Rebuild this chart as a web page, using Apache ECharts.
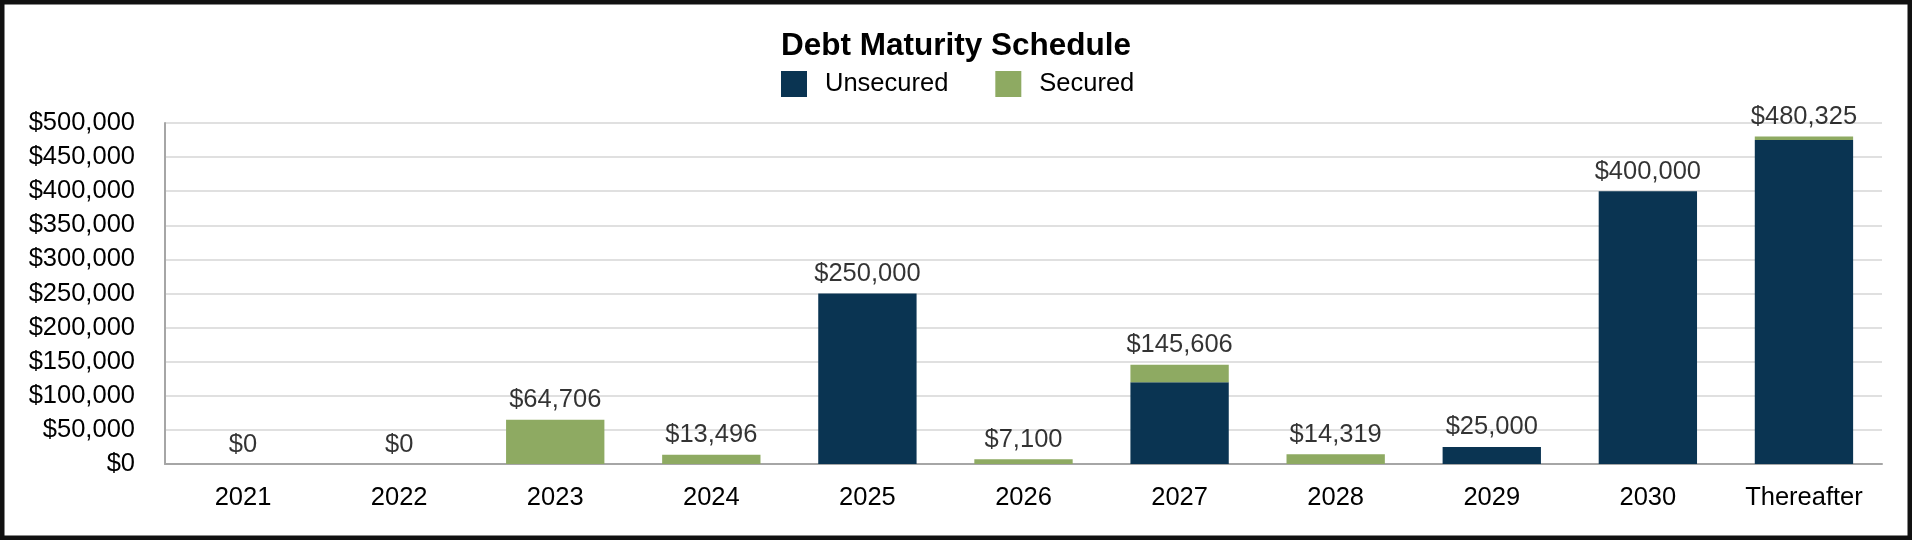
<!DOCTYPE html>
<html>
<head>
<meta charset="utf-8">
<style>
  html, body { margin: 0; padding: 0; background: #ffffff; }
  #chart { width: 1912px; height: 540px; }
</style>
<script src="https://cdn.jsdelivr.net/npm/echarts@6/dist/echarts.min.js"></script>
</head>
<body>
<div id="chart"></div>
<script>
const categories = ['2021', '2022', '2023', '2024', '2025', '2026', '2027', '2028', '2029', '2030', 'Thereafter'];
const unsecured = [0, 0, 0, 0, 250000, 0, 120000, 0, 25000, 400000, 475000];
const secured   = [0, 0, 64706, 13496, 0, 7100, 25606, 14319, 0, 0, 5325];
const totals    = [0, 0, 64706, 13496, 250000, 7100, 145606, 14319, 25000, 400000, 480325];
const yTicks = { min: 0, max: 500000, interval: 50000 };

const FONT = '"Liberation Sans", Arial, Helvetica, sans-serif';
const NAVY = '#0a3452';
const GREEN = '#8eaa62';
const money = v => '$' + Math.round(v).toLocaleString('en-US');

const chart = echarts.init(document.getElementById('chart'), null, { renderer: 'canvas' });
chart.setOption({
  backgroundColor: '#ffffff',
  animation: false,
  textStyle: { fontFamily: FONT },
  title: {
    text: 'Debt Maturity Schedule',
    left: 'center',
    top: 30,
    padding: 0,
    textStyle: { fontFamily: FONT, fontSize: 31.5, fontWeight: 'bold', color: '#000000' }
  },
  legend: {
    data: ['Unsecured', 'Secured'],
    left: 781,
    top: 71,
    padding: 0,
    icon: 'rect',
    itemWidth: 26,
    itemHeight: 26,
    itemGap: 47,
    selectedMode: false,
    textStyle: { fontFamily: FONT, fontSize: 25.5, color: '#000000', padding: [0, 0, 0, 13] }
  },
  grid: { left: 165, right: 30, top: 123, bottom: 76, containLabel: false },
  xAxis: {
    type: 'category',
    data: categories,
    axisLine: { show: true, lineStyle: { color: '#a6a6a6', width: 2 } },
    axisTick: { show: false },
    axisLabel: { fontFamily: FONT, fontSize: 25.5, color: '#000000', margin: 21 },
    splitLine: { show: false }
  },
  yAxis: {
    type: 'value',
    min: yTicks.min,
    max: yTicks.max,
    interval: yTicks.interval,
    axisLine: { show: true, lineStyle: { color: '#a6a6a6', width: 2 } },
    axisTick: { show: false },
    axisLabel: {
      fontFamily: FONT, fontSize: 25.5, color: '#000000', margin: 30,
      padding: [6, 0, 0, 0], formatter: money
    },
    splitLine: { show: true, lineStyle: { color: '#e0e0e0', width: 2 } }
  },
  series: [
    {
      name: 'Unsecured', type: 'bar', stack: 'debt', data: unsecured,
      barCategoryGap: '37%', itemStyle: { color: NAVY }
    },
    {
      name: 'Secured', type: 'bar', stack: 'debt', data: secured,
      barCategoryGap: '37%', itemStyle: { color: GREEN }
    },
    {
      name: 'Total', type: 'scatter', data: totals, symbolSize: 1,
      itemStyle: { color: 'rgba(0,0,0,0)' }, silent: true, z: 10,
      label: {
        show: true, position: 'top', distance: 6,
        fontFamily: FONT, fontSize: 25.5, color: '#000000',
        formatter: p => money(p.value)
      }
    }
  ],
  graphic: [
    {
      type: 'rect', silent: true, z: 100,
      shape: { x: 2.25, y: 2.25, width: 1907.5, height: 535.5 },
      style: { fill: 'none', stroke: '#111111', lineWidth: 4.5 }
    }
  ]
});
</script>
</body>
</html>
